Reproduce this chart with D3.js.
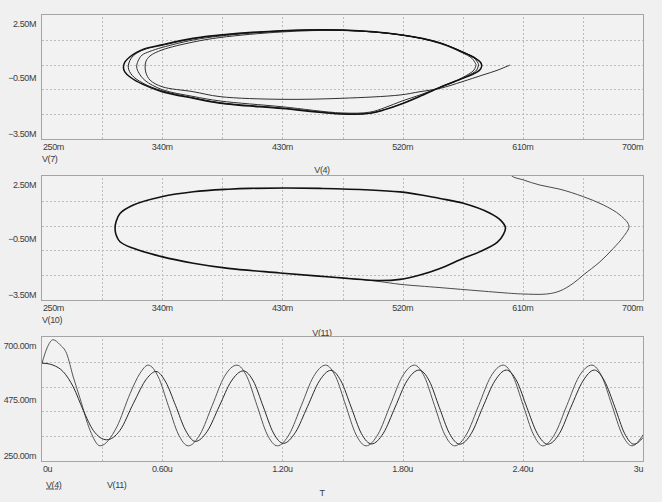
<!DOCTYPE html>
<html>
<head>
<meta charset="utf-8">
<script src="https://cdn.jsdelivr.net/npm/d3@7"></script>
<style>
  body { margin: 0; background: #f0f0f0; }
  svg text { font-family: "Liberation Sans", Arial, sans-serif; font-size: 9px; letter-spacing: -0.4px; fill: #3c3c3c; }
  .grid line { stroke: #bcbcbc; stroke-dasharray: 2,2; shape-rendering: crispEdges; }
  .grid path { display: none; }
</style>
</head>
<body>
<svg width="662" height="502"></svg>
<script>
// ---- top panel: V(7) [M] against V(4) [m], traced lap by lap
var topLap1 = [[600.4,0.08],[590.7,-0.18],[580.2,-0.40],[564.5,-0.73],[548.0,-1.05],[533.0,-1.21],[518.1,-1.37],[474.6,-1.53],[429.7,-1.58],[383.3,-1.45],[363.1,-1.21],[339.9,-0.97],[330.9,-0.65],[327.9,-0.31],[327.2,-0.02],[327.9,0.27],[330.9,0.52],[339.9,0.81],[363.1,1.19],[383.3,1.41],[429.7,1.68],[474.6,1.75],[519.6,1.53],[548.0,1.12],[564.5,0.68],[572.0,0.40],[575.0,0.10]];
var topLap2 = [[575.0,0.10],[573.5,-0.16],[564.5,-0.54],[548.0,-0.99],[533.0,-1.37],[519.6,-1.66],[506.8,-1.98],[495.6,-2.20],[474.6,-2.24],[429.7,-1.94],[383.3,-1.66],[363.1,-1.44],[339.9,-1.11],[327.2,-0.67],[322.6,-0.31],[320.9,-0.02],[321.9,0.27],[324.9,0.56],[330.9,0.74],[339.9,0.93],[363.1,1.29],[383.3,1.48],[429.7,1.72],[474.6,1.76],[519.6,1.53],[548.0,1.15],[564.5,0.72],[573.5,0.42],[576.9,0.13]];
var topLap3 = [[576.9,0.13],[575.5,-0.16],[564.5,-0.58],[548.0,-1.00],[533.0,-1.42],[519.6,-1.78],[506.8,-2.07],[495.6,-2.25],[474.6,-2.28],[429.7,-2.00],[383.3,-1.74],[363.1,-1.50],[339.9,-1.17],[325.6,-0.80],[317.5,-0.42],[314.6,-0.04],[316.5,0.38],[321.0,0.66],[328.0,0.86],[339.9,1.03],[363.1,1.35],[383.3,1.52],[429.7,1.73],[474.6,1.77],[519.6,1.53],[548.0,1.15],[564.5,0.72],[574.2,0.42],[578.5,0.20],[579.2,0.02]];
var topLoop = [[579.2,0.02],[577.5,-0.18],[572.0,-0.38],[564.5,-0.58],[548.0,-1.00],[533.0,-1.44],[519.6,-1.80],[506.8,-2.08],[495.6,-2.26],[474.6,-2.29],[429.7,-2.03],[383.3,-1.77],[363.1,-1.53],[339.9,-1.21],[325.6,-0.86],[315.9,-0.50],[312.0,-0.25],[311.0,-0.06],[312.0,0.22],[315.9,0.48],[320.5,0.68],[326.0,0.85],[339.6,1.06],[363.1,1.37],[383.3,1.53],[429.7,1.74],[474.6,1.77],[519.6,1.53],[548.0,1.15],[564.5,0.72],[574.2,0.42],[578.5,0.20]];

// ---- middle panel: V(10) [M] against V(11) [m]
var midTransient = [[596.0,3.30],[601.2,2.53],[610.4,2.31],[622.9,2.06],[637.9,1.86],[655.3,1.50],[670.3,1.10],[682.8,0.61],[689.5,0.08],[685.3,-0.44],[677.8,-1.00],[667.8,-1.65],[655.3,-2.29],[647.8,-2.69],[637.9,-3.06],[627.9,-3.21],[610.4,-3.21],[601.7,-3.18],[578.0,-3.06],[548.0,-2.90],[518.1,-2.74],[503.1,-2.61],[488.1,-2.50],[465.7,-2.39]];
var midLoop = [[304.7,-0.03],[305.5,0.30],[308.4,0.69],[318.4,1.10],[339.6,1.50],[363.3,1.74],[389.5,1.86],[405.7,1.90],[458.2,1.90],[518.1,1.73],[548.0,1.41],[565.5,1.18],[585.5,0.70],[593.5,0.35],[597.0,0.00],[595.5,-0.32],[591.0,-0.70],[578.0,-1.16],[565.5,-1.48],[548.0,-1.97],[533.0,-2.29],[518.1,-2.50],[503.1,-2.56],[465.7,-2.39],[428.2,-2.19],[389.5,-1.97],[363.3,-1.72],[339.6,-1.40],[318.4,-1.00],[308.4,-0.68],[305.5,-0.35]];

// ---- bottom panel: V(4), V(11) [m] against T [u]
var v4Time = [0,0.03,0.055,0.106,0.156,0.206,0.256,0.323,0.389,0.456,0.523,0.569,0.618,0.667,0.716,0.765,0.825,0.885,0.945,1.005,1.055,1.105,1.155,1.205,1.265,1.325,1.385,1.442,1.492,1.543,1.594,1.645,1.704,1.763,1.822,1.882,1.933,1.983,2.034,2.085,2.143,2.20,2.26,2.318,2.37,2.42,2.472,2.525,2.583,2.64,2.70,2.757,2.808,2.86,2.908,2.955,3.0];
var v4Vals = [605,603,598,574,519,434,361,327,361,459,549,575,536,451,362,321,358,449,540,577,540,446,352,314,354,447,541,579,541,446,350,312,351,446,541,580,541,445,350,311,350,445,540,580,540,445,350,311,350,445,540,580,540,445,350,311,335];
var v11Time = [0,0.025,0.055,0.09,0.123,0.156,0.19,0.24,0.29,0.373,0.44,0.489,0.53,0.58,0.63,0.68,0.73,0.79,0.85,0.91,0.973,1.023,1.073,1.123,1.175,1.235,1.295,1.355,1.416,1.466,1.516,1.566,1.618,1.678,1.738,1.798,1.859,1.909,1.959,2.009,2.06,2.12,2.18,2.24,2.302,2.352,2.402,2.452,2.50,2.56,2.62,2.68,2.745,2.795,2.845,2.895,2.945,3.0];
var v11Vals = [605,660,690,672,640,555,477,361,305,373,495,568,598,556,452,348,305,348,452,556,598,556,452,348,305,348,452,556,598,556,452,348,305,348,452,556,598,556,452,348,305,348,452,556,598,556,452,348,305,348,452,556,598,556,452,348,305,345];

var topXLabels = ["250m","340m","430m","520m","610m","700m"];
var topXTicks = [250,340,430,520,610,700];
var megYTicks = [2.5,-0.5,-3.5];
var botXLabels = ["0u","0.60u","1.20u","1.80u","2.40u","3u"];
var botXTicks = [0,0.6,1.2,1.8,2.4,3];
var botYTicks = [700,475,250];

var svg = d3.select("svg");
var left = 42, right = 643;

function drawPanel(p, idx) {
  var x = d3.scaleLinear().domain(p.xDomain).range([left, right]);
  var y = d3.scaleLinear().domain(p.yDomain).range([p.bottom, p.top]);
  var h = p.bottom - p.top;
  var g = svg.append("g");

  g.append("rect").attr("x", left).attr("y", p.top).attr("width", right - left).attr("height", h).attr("fill", "#f2f2f2");

  var xs = (p.xDomain[1] - p.xDomain[0]) / 10, ys = (p.yDomain[1] - p.yDomain[0]) / 5;
  g.append("g").attr("class", "grid").attr("transform", "translate(0," + p.bottom + ")")
    .call(d3.axisBottom(x).tickValues(d3.range(1, 10).map(function (i) { return p.xDomain[0] + i * xs; }))
      .tickSize(-h).tickFormat(""));
  g.append("g").attr("class", "grid").attr("transform", "translate(" + left + ",0)")
    .call(d3.axisLeft(y).tickValues(d3.range(1, 5).map(function (i) { return p.yDomain[0] + i * ys; }))
      .tickSize(-(right - left)).tickFormat(""));

  svg.append("clipPath").attr("id", "clip" + idx).append("rect")
    .attr("x", left).attr("y", p.top).attr("width", right - left).attr("height", h);

  var plot = g.append("g").attr("clip-path", "url(#clip" + idx + ")");
  p.series.forEach(function (s) {
    var line = d3.line().x(function (d) { return x(d[0]); }).y(function (d) { return y(d[1]); }).curve(s.curve);
    plot.append("path").attr("d", line(s.data)).attr("fill", "none")
      .attr("stroke", s.color).attr("stroke-width", s.width).attr("stroke-linejoin", "round");
  });

  g.append("rect").attr("x", left - 0.5).attr("y", p.top - 0.5).attr("width", right - left + 1).attr("height", h + 1)
    .attr("fill", "none").attr("stroke", "#a4a4a4").attr("shape-rendering", "crispEdges");

  // x tick labels
  g.selectAll("text.xt").data(p.xTicks).enter().append("text")
    .attr("x", function (d, i) { return x(d) + (i === 0 ? 1 : 0); })
    .attr("y", p.bottom + 11)
    .attr("text-anchor", function (d, i) { return i === 0 ? "start" : (i === p.xTicks.length - 1 ? "end" : "middle"); })
    .text(function (d, i) { return p.xLabels[i]; });

  // y tick labels: top one hangs below the edge, middle one centred, bottom one sits above
  var dy = [12, 3.5, -2.5];
  g.selectAll("text.yt").data(p.yTicks).enter().append("text")
    .attr("x", 36).attr("y", function (d, i) { return y(d) + dy[i]; })
    .attr("text-anchor", "end")
    .text(p.yFmt);

  return { x: x, y: y };
}

var catmull = d3.curveCatmullRom.alpha(0.5);
var megFmt = function (d) { return d3.format(".2f")(d) + "M"; };

drawPanel({
  top: 15, bottom: 139, xDomain: [250, 700], yDomain: [-3.5, 2.5],
  xTicks: topXTicks, xLabels: topXLabels, yTicks: megYTicks, yFmt: megFmt,
  series: [
    { data: topLap1, curve: catmull, color: "#303030", width: 1 },
    { data: topLap2, curve: catmull, color: "#303030", width: 1 },
    { data: topLap3, curve: catmull, color: "#202020", width: 1 },
    { data: topLoop, curve: d3.curveCatmullRomClosed.alpha(0.5), color: "#111", width: 1.5 }
  ]
}, 0);
svg.append("text").attr("x", 42).attr("y", 162).text("V(7)");
svg.append("text").attr("x", 322).attr("y", 173).attr("text-anchor", "middle").text("V(4)");

drawPanel({
  top: 176, bottom: 300, xDomain: [250, 700], yDomain: [-3.5, 2.5],
  xTicks: topXTicks, xLabels: topXLabels, yTicks: megYTicks, yFmt: megFmt,
  series: [
    { data: midTransient, curve: catmull, color: "#4a4a4a", width: 1 },
    { data: midLoop, curve: d3.curveCatmullRomClosed.alpha(0.5), color: "#111", width: 1.6 }
  ]
}, 1);
svg.append("text").attr("x", 42).attr("y", 322.5).text("V(10)");
svg.append("text").attr("x", 322).attr("y", 335.5).attr("text-anchor", "middle").text("V(11)");

drawPanel({
  top: 337, bottom: 461, xDomain: [0, 3], yDomain: [250, 700],
  xTicks: botXTicks, xLabels: botXLabels, yTicks: botYTicks,
  yFmt: function (d) { return d3.format(".2f")(d) + "m"; },
  series: [
    { data: d3.zip(v11Time, v11Vals), curve: d3.curveMonotoneX, color: "#555", width: 1 },
    { data: d3.zip(v4Time, v4Vals), curve: d3.curveMonotoneX, color: "#2a2a2a", width: 1 }
  ]
}, 2);
svg.append("text").attr("x", 46).attr("y", 487.5).style("text-decoration", "underline").text("V(4)");
svg.append("text").attr("x", 107).attr("y", 487.5).text("V(11)");
svg.append("text").attr("x", 322).attr("y", 496).attr("text-anchor", "middle").text("T");
</script>
</body>
</html>
